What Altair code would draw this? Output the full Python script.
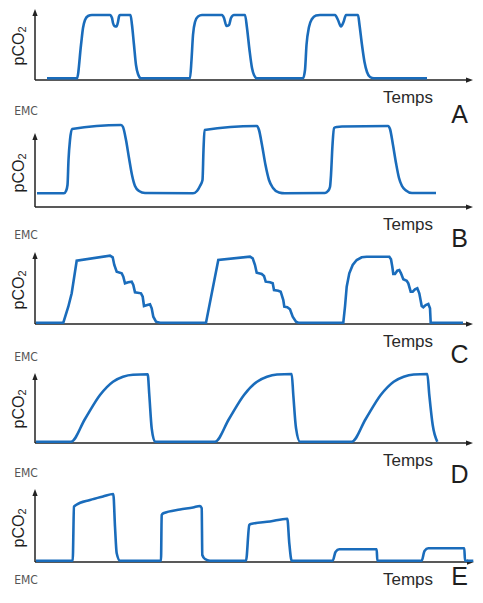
import altair as alt
import pandas as pd

# ---------------- data (time and pCO2 in arbitrary units) ----------------
A_t = [12, 42, 46, 48, 50, 53, 57, 75, 77, 78, 79.5, 81.5, 83, 84, 85, 95.5, 97, 99, 101, 103, 106,
       155, 156.5, 158, 160, 163, 167, 187, 189, 191.5, 194, 196, 199, 210, 212, 214.5, 217, 219, 222,
       268, 270, 271.5, 274, 277, 281, 285, 300, 303, 306, 308.5, 311, 323, 324.5, 327, 329.5, 332, 335, 339, 392]
A_v = [1.7, 1.7, 35, 52, 60, 64, 65, 65, 62, 57, 54, 53.5, 58, 63.5, 65, 65, 55, 35, 15, 6, 1.7,
       1.7, 20, 45, 58, 63.5, 65, 65, 62, 54, 55, 62, 65, 65, 52, 30, 12, 5, 1.7,
       1.7, 10, 35, 53, 61, 64.5, 65, 65, 60, 53.5, 58, 65, 65, 55, 35, 18, 8, 3, 1.7, 1.7]

B_t = [2, 29, 31, 32.5, 33.5, 35, 37, 86, 88, 91, 94, 97, 100, 104, 110,
       158, 162, 165, 167.5, 168.5, 169.5, 222, 224, 227, 230.5, 234, 238, 244, 250,
       290, 293, 295, 296, 297.5, 299, 302, 307, 353, 355, 358, 361, 364, 367, 371, 377, 401]
B_v = [13.7, 13.7, 16, 22, 47, 67, 78, 82, 80, 67, 49, 32, 21, 16, 14,
       13.7, 16, 21, 27, 57, 77, 81, 77, 62, 42, 27, 19, 14.5, 13.7,
       14, 16, 20, 32, 62, 79, 80, 80.5, 81, 78, 62, 44, 29, 21, 16.5, 14, 14]

C_t = [1, 28.3, 33.3, 36.7, 41.7, 75, 77.7, 79.3, 81.7, 86.7, 88.3, 90, 93.3, 96.7, 98.3, 100, 106,
       107.7, 109, 112.3, 115, 116.7, 118.3, 121, 125,
       171, 183.3, 215, 217.7, 220, 221.7, 226.7, 229, 230.7, 235, 237.7, 239, 243.3, 245.7, 248.3,
       249.3, 252.3, 255, 257.7, 261, 263.3,
       308.3, 310, 311.7, 314.3, 317.7, 321.7, 326.7, 331.7, 354.3, 356, 357.3, 358.3, 360, 362.3,
       364.3, 366, 368.3, 371.7, 373.3, 375.7, 377.7, 380, 382.3, 384.3, 386.7, 388.3, 390.7, 393.3,
       395, 395.7, 428]
C_v = [1.3, 1.3, 17.3, 30.7, 63.3, 68.3, 66.7, 59, 52.3, 50.7, 47.3, 40.7, 41.7, 42.3, 39, 31.7, 30.7,
       27.3, 18, 19, 19.7, 15.7, 7.3, 2.3, 1.3,
       1.3, 64, 67.3, 65.7, 59, 51.3, 50, 48, 42.3, 41.7, 40.7, 34, 33.3, 32.3, 24,
       17.3, 16.7, 14.7, 7.3, 2.3, 1.3,
       1.3, 17.3, 37.3, 50.7, 59, 64, 66.7, 67.3, 67.3, 64.7, 57.3, 50, 50, 53.3,
       54, 50.7, 44.7, 43.3, 40.7, 32.3, 32.3, 34.7, 35.7, 30.7, 18, 16.7, 19, 20,
       15.7, 1.3, 1.3]

D_t = [1, 36, 50, 65, 78, 88, 98, 112.7, 114.3, 116.7, 120, 180,
       194, 209, 222, 232, 242, 256.7, 258.3, 261, 265, 316.7,
       330.7, 345.7, 358.7, 368.7, 378.7, 392.3, 394.3, 397.7, 402.3]
D_v = [1.3, 1.3, 24, 48, 61.3, 66.3, 68.3, 68.7, 48, 14.7, 1.3, 1.3,
       24, 48, 61.3, 66.3, 68.5, 69, 48, 15, 1.3, 1.3,
       24, 48, 61.3, 66.3, 68.5, 69, 48, 18, 1.3]

E_t = [1, 37.7, 39, 41, 55, 68, 78.3, 80, 81.7, 85, 126, 126.7, 128.3, 145, 158, 165, 166.7, 167.3,
       170, 175, 211, 214.3, 215.7, 235, 252.3, 254.3, 256.7, 297.7, 300.5, 304.3, 341.7, 342.3,
       386.7, 389.5, 393.3, 429.3, 430, 438.3]
E_v = [1.3, 1.3, 55.3, 57, 62, 65.5, 68, 35.3, 8.7, 1.3, 1.3, 47, 48.7, 52.5, 54.5, 56, 53.7, 7,
       3, 1.3, 1.3, 37, 38, 40.5, 43.3, 18.7, 1.3, 1.3, 10, 12.7, 12.7, 1.3,
       1.3, 11, 13.7, 13.7, 1.3, 1.3]

panel_letters = ["A", "B", "C", "D", "E"]
series = {"A": (A_t, A_v), "B": (B_t, B_v), "C": (C_t, C_v), "D": (D_t, D_v), "E": (E_t, E_v)}
x_title = "Temps"
y_title = "pCO"
y_sub = "2"
logo = "EMC"

# ---------------- layout (pixels) ----------------
W, H, PAGE = 467, 583, 8
axis_y = {"A": 80, "B": 207, "C": 324, "D": 443, "E": 562}       # page y of each time axis
y_len = {"A": 71, "B": 74, "C": 72, "D": 70, "E": 73}             # length of vertical axis
x_len = {"A": 438, "B": 438, "C": 438, "D": 438, "E": 439}        # length of horizontal axis
letter_dy = {"A": 43, "B": 40, "C": 39, "D": 40, "E": 23}
logo_dy = {"A": 31, "B": 28, "C": 33, "D": 30, "E": 18}
interp = {"A": "monotone", "B": "monotone", "C": "linear", "D": "monotone", "E": "monotone"}

BLUE = "#1a6cbb"
AX = "#222222"
FONT = "Liberation Sans"
UP = "M0,-1L0.75,1L-0.75,1Z"
RIGHT = "M1,0L-1,0.75L-1,-0.75Z"

xs = alt.Scale(domain=[-27, W - 27], nice=False, zero=False)
one = alt.InlineData(values=[{}])


def panel(key):
    ay = axis_y[key] - PAGE
    ys = alt.Scale(domain=[0, 100], range=[ay, ay - 100], nice=False, zero=False)

    def X(v):
        return alt.XDatum(v, type="quantitative", scale=xs, axis=None)

    def Y(v):
        return alt.YDatum(v, type="quantitative", scale=ys, axis=None)

    t, v = series[key]
    df = pd.DataFrame({"Temps": t, "pCO2": v})

    x_axis = alt.Chart(one).mark_rule(color=AX, strokeWidth=1.5).encode(
        x=X(0), x2=alt.X2Datum(x_len[key] - 5), y=Y(0))
    y_axis = alt.Chart(one).mark_rule(color=AX, strokeWidth=1.5).encode(
        x=X(0), y=Y(0), y2=alt.Y2Datum(y_len[key] - 5))
    up = alt.Chart(one).mark_point(shape=UP, filled=True, size=49, color=AX, opacity=1).encode(
        x=X(0), y=Y(y_len[key] - 3.5))
    right = alt.Chart(one).mark_point(shape=RIGHT, filled=True, size=49, color=AX, opacity=1).encode(
        x=X(x_len[key] - 3.5), y=Y(0))
    line = alt.Chart(df).mark_line(color=BLUE, strokeWidth=2.6, interpolate=interp[key]).encode(
        x=alt.X("Temps:Q", scale=xs, axis=None),
        y=alt.Y("pCO2:Q", scale=ys, axis=None),
        order=alt.Order("Temps:Q"))

    temps = alt.Chart(one).mark_text(text=x_title, font=FONT, fontSize=17, align="right",
                                     baseline="alphabetic", color="#2a2a2a").encode(x=X(398), y=Y(-23))
    letter = alt.Chart(one).mark_text(text=key, font=FONT, fontSize=25, align="center",
                                      baseline="alphabetic", color="#1e1e1e").encode(
        x=X(424.5), y=Y(-letter_dy[key]))
    emc = alt.Chart(one).mark_text(text=logo, font="Liberation Sans Narrow, DejaVu Sans Condensed, sans-serif",
                                   fontSize=12, align="center", baseline="middle",
                                   color="#555555").encode(x=X(-9), y=Y(-logo_dy[key]))
    pco = alt.Chart(one).mark_text(text=y_title, font=FONT, fontSize=16, angle=270, align="center",
                                   baseline="alphabetic", color="#1e1e1e").encode(x=X(-11), y=Y(31))
    sub = alt.Chart(one).mark_text(text=y_sub, font=FONT, fontSize=11, angle=270, align="center",
                                   baseline="alphabetic", color="#1e1e1e").encode(x=X(-9), y=Y(50.5))

    return alt.layer(x_axis, y_axis, up, right, line, temps, letter, emc, pco, sub)


chart = alt.layer(*[panel(k) for k in panel_letters]).resolve_scale(y="independent").properties(
    width=W, height=H, padding=0, autosize=alt.AutoSizeParams(type="none")
).configure_view(stroke=None)

chart.save("out.html", embed_options={"renderer": "svg", "actions": False})
